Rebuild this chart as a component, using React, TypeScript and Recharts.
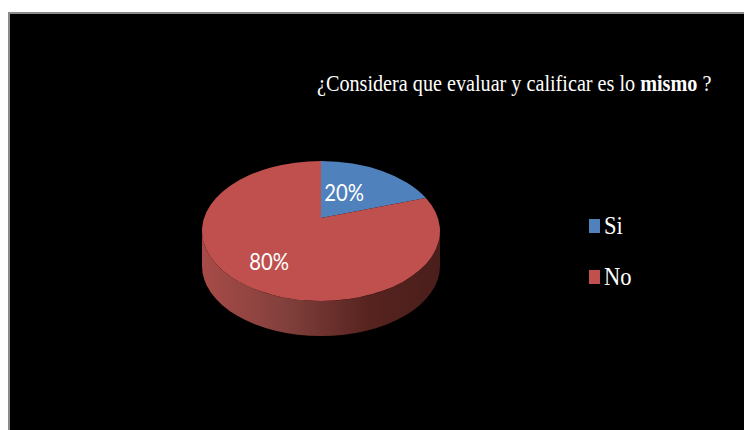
import { Legend, Pie, PieChart } from "recharts";

const categories = ["Si", "No"];
const values = [20, 80];
const colors = ["#4f81bd", "#c0504d"];
const percentLabels = ["20%", "80%"];

const pieData = categories.map((name, i) => ({
  name,
  value: values[i],
  fill: colors[i],
}));

// the pie is tilted: the flat circle gets squashed and its apex moves up
const SQUASH = 70 / 119;
const APEX_SHIFT = -13;
const DEPTH = 35;

const labelOffsets = [
  { dx: 23, dy: -38 },
  { dx: -52, dy: 31 },
];

function rimPoint(cx: number, cy: number, r: number, angle: number) {
  const rad = (angle * Math.PI) / 180;
  const c = Math.cos(rad);
  const d = -Math.sin(rad) * SQUASH;
  const ry = r * SQUASH;
  const a = SQUASH * SQUASH;
  const b = 2 * APEX_SHIFT * d;
  const e = APEX_SHIFT * APEX_SHIFT - ry * ry;
  const s = (-b + Math.sqrt(b * b - 4 * a * e)) / (2 * a);
  return { x: cx + s * c, y: cy + APEX_SHIFT + s * d };
}

function TiltedSlice(props: any) {
  const { cx, cy, outerRadius: r, startAngle, endAngle, fill } = props;
  const ry = r * SQUASH;
  const from = rimPoint(cx, cy, r, startAngle);
  const to = rimPoint(cx, cy, r, endAngle);
  const large = startAngle - endAngle > 180 ? 1 : 0;
  const hasWall = startAngle >= 0 && endAngle <= -180;

  return (
    <g>
      {hasWall && (
        <path
          d={`M${cx - r},${cy} A${r},${ry} 0 0 0 ${cx + r},${cy} L${cx + r},${cy + DEPTH} A${r},${ry} 0 0 1 ${cx - r},${cy + DEPTH} Z`}
          fill="url(#wallShade)"
          stroke="none"
        />
      )}
      <path
        d={`M${cx},${cy + APEX_SHIFT} L${from.x},${from.y} A${r},${ry} 0 ${large} 1 ${to.x},${to.y} Z`}
        fill={fill}
        stroke="none"
      />
    </g>
  );
}

function SliceLabel(props: any) {
  const { cx, cy, index } = props;
  const off = labelOffsets[index];
  return (
    <text
      transform={`translate(${cx + off.dx},${cy + off.dy}) scale(0.88,1)`}
      fill="#ffffff"
      fontFamily="Lato, sans-serif"
      fontSize={23}
      textAnchor="middle"
      dominantBaseline="central"
    >
      {percentLabels[index]}
    </text>
  );
}

function LegendRows({ payload }: any) {
  return (
    <div>
      {(payload || []).map((entry: any) => (
        <div
          key={entry.value}
          style={{
            height: 51,
            display: "flex",
            alignItems: "center",
            fontFamily: '"Liberation Serif", serif',
            fontSize: 25,
            color: "#ffffff",
          }}
        >
          <span
            style={{
              width: 11,
              height: 14,
              marginRight: 4,
              background: entry.color,
            }}
          />
          <span style={{ transform: "scaleX(0.9)", transformOrigin: "left" }}>
            {entry.value}
          </span>
        </div>
      ))}
    </div>
  );
}

export default function App() {
  return (
    <div
      style={{
        position: "absolute",
        left: 0,
        top: 0,
        width: 744,
        height: 430,
        overflow: "hidden",
        background: "#ffffff",
      }}
    >
      <div
        style={{
          position: "absolute",
          left: 8,
          top: 12,
          width: 736,
          height: 418,
          boxSizing: "border-box",
          background: "#000000",
          borderTop: "2px solid #8a8a8a",
          borderLeft: "2px solid #8a8a8a",
        }}
      />
      <div style={{ position: "absolute", left: 0, top: 0 }}>
        <PieChart
          width={744}
          height={430}
          margin={{ top: 0, right: 0, bottom: 0, left: 0 }}
        >
          <defs>
            <linearGradient id="wallShade" x1="0" y1="0" x2="1" y2="0">
              <stop offset="0%" stopColor="#a84b48" />
              <stop offset="35%" stopColor="#82403c" />
              <stop offset="70%" stopColor="#57231f" />
              <stop offset="100%" stopColor="#4a1e1b" />
            </linearGradient>
          </defs>
          <text
            transform="translate(317,91) scale(0.859,1)"
            fill="#ffffff"
            fontFamily='"Liberation Serif", serif'
            fontSize={23.5}
          >
            ¿Considera que evaluar y calificar es lo <tspan fontWeight="bold">mismo</tspan> ?
          </text>
          <Pie
            data={pieData}
            dataKey="value"
            nameKey="name"
            cx={321}
            cy={231}
            outerRadius={119}
            startAngle={90}
            endAngle={-270}
            stroke="none"
            shape={TiltedSlice}
            label={SliceLabel}
            labelLine={false}
            isAnimationActive={false}
          />
          <Legend
            content={LegendRows}
            layout="vertical"
            itemSorter={null}
            wrapperStyle={{ left: 589, top: 200, width: 70, bottom: "auto" }}
          />
        </PieChart>
      </div>
    </div>
  );
}
